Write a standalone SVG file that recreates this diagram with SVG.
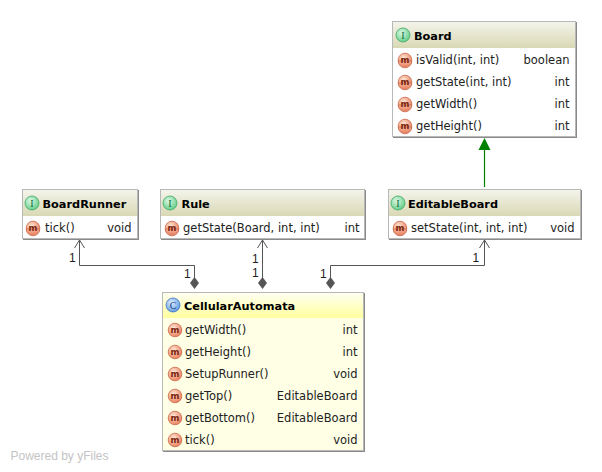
<svg xmlns="http://www.w3.org/2000/svg" width="602" height="472" viewBox="0 0 602 472">
<style>
text{font-family:"DejaVu Sans","Liberation Sans",sans-serif;font-size:11.5px;fill:#222}
.t{font-weight:bold;font-size:11.3px;fill:#000}
.r{text-anchor:end}
.box{stroke:#b8b8b8;stroke-width:1;fill:#fff}
.sh{fill:#8a8a8a}
.e{fill:none;stroke:#555;stroke-width:1}
.d{fill:#555;stroke:none}
.c{font-size:12px;font-family:"Liberation Sans",sans-serif;fill:#222}
.ic{font-size:8.500px;text-anchor:middle;fill:#7a1e0c;font-weight:bold}
.ii{font-size:10px;text-anchor:middle;fill:#0b6b3a;font-family:"Liberation Serif",serif}
.ico{fill:url(#gm);stroke:#c9684a;stroke-width:.8}
.ovl{fill:url(#go);stroke:#c9684a;stroke-width:.8}
</style>
<defs>
<linearGradient id="hi" x1="0" y1="0" x2="0" y2="1"><stop offset="0" stop-color="#f4f4ec"/><stop offset="1" stop-color="#d9d8b4"/></linearGradient>
<linearGradient id="hc" x1="0" y1="0" x2="0" y2="1"><stop offset="0" stop-color="#fffff2"/><stop offset="1" stop-color="#ffff9e"/></linearGradient>
<radialGradient id="gm" cx=".4" cy=".35" r=".7"><stop offset="0" stop-color="#fde8d8"/><stop offset="1" stop-color="#ea7a55"/></radialGradient>
<radialGradient id="gi" cx=".4" cy=".35" r=".7"><stop offset="0" stop-color="#dcf8e4"/><stop offset="1" stop-color="#5fcb84"/></radialGradient>
<radialGradient id="gc" cx=".4" cy=".35" r=".7"><stop offset="0" stop-color="#dfeeff"/><stop offset="1" stop-color="#5a95e0"/></radialGradient>
<linearGradient id="go" x1="0" y1="0" x2="0" y2="1"><stop offset="0" stop-color="#f6b9a0"/><stop offset="1" stop-color="#e87a58"/></linearGradient>
<g id="mi"><circle cx="0" cy="0" r="6.800" class="ico"/><text class="ic" x="0" y="2.800">m</text></g>
<g id="ma"><circle cx="0" cy="0" r="6.800" class="ico"/><path d="M-6.800 1H6.800A6.800 6.800 0 0 1-6.800 1Z" class="ovl" fill-opacity=".7"/><text class="ic" x="0" y="2.800">m</text></g>
<g id="ii"><circle cx="0" cy="0" r="7" fill="url(#gi)" stroke="#3fa866" stroke-width=".8"/><text class="ii" x="0" y="3.500">I</text></g>
</defs>
<g id="connectors">
<path class="e" d="M194.500 278V265.500H79.500V240"/>
<path class="e" d="M79.500 240l-5 8M79.500 240l5 8"/>
<path class="d" d="M194.500 277l4.500 6-4.500 6-4.500-6z"/>
<path class="e" d="M262.500 278V240"/>
<path class="e" d="M262.500 240l-5 8M262.500 240l5 8"/>
<path class="d" d="M262.500 277l4.500 6-4.500 6-4.500-6z"/>
<path class="e" d="M330.500 278V265.500H484.500V240"/>
<path class="e" d="M484.500 240l-5 8M484.500 240l5 8"/>
<path class="d" d="M330.500 277l4.500 6-4.500 6-4.500-6z"/>
<path d="M484.500 187V149" stroke="#008000" stroke-width="1.200" fill="none"/>
<path d="M484.500 138l6 12h-12z" fill="#008000"/>
<text class="c" x="69" y="262">1</text>
<text class="c" x="184" y="278">1</text>
<text class="c" x="252" y="263">1</text>
<text class="c" x="252" y="277">1</text>
<text class="c" x="320" y="278">1</text>
<text class="c" x="472.500" y="262">1</text>
</g>
<g id="board">
<rect class="sh" x="393" y="22" width="184" height="116"/>
<rect class="box" x="392.500" y="21.500" width="183" height="115"/>
<rect x="393" y="22" width="182" height="26" fill="url(#hi)"/>
<use href="#ii" x="403" y="35"/><text class="t" x="414" y="39.500">Board</text>
<use href="#ma" x="405" y="60"/><text x="416" y="64">isValid(int, int)</text><text class="r" x="569.500" y="64">boolean</text>
<use href="#ma" x="405" y="82"/><text x="416" y="86">getState(int, int)</text><text class="r" x="569.500" y="86">int</text>
<use href="#ma" x="405" y="104"/><text x="416" y="108">getWidth()</text><text class="r" x="569.500" y="108">int</text>
<use href="#ma" x="405" y="126"/><text x="416" y="130">getHeight()</text><text class="r" x="569.500" y="130">int</text>
</g>
<g id="boardrunner">
<rect class="sh" x="23" y="190" width="116" height="50"/>
<rect class="box" x="22.500" y="189.500" width="115" height="49"/>
<rect x="23" y="190" width="114" height="26" fill="url(#hi)"/>
<use href="#ii" x="32" y="203"/><text class="t" x="42.500" y="207.500">BoardRunner</text>
<use href="#ma" x="33" y="228"/><text x="45" y="232">tick()</text><text class="r" x="131.500" y="232">void</text>
</g>
<g id="rule">
<rect class="sh" x="161" y="190" width="205" height="50"/>
<rect class="box" x="160.500" y="189.500" width="204" height="49"/>
<rect x="161" y="190" width="203" height="26" fill="url(#hi)"/>
<use href="#ii" x="170" y="203"/><text class="t" x="181.500" y="207.500">Rule</text>
<use href="#ma" x="172" y="228"/><text x="183" y="232">getState(Board, int, int)</text><text class="r" x="359.500" y="232">int</text>
</g>
<g id="editableboard">
<rect class="sh" x="389" y="190" width="193" height="50"/>
<rect class="box" x="388.500" y="189.500" width="192" height="49"/>
<rect x="389" y="190" width="191" height="26" fill="url(#hi)"/>
<use href="#ii" x="398" y="203"/><text class="t" x="408" y="207.500">EditableBoard</text>
<use href="#ma" x="400" y="228"/><text x="411" y="232">setState(int, int, int)</text><text class="r" x="574.500" y="232">void</text>
</g>
<g id="cellularautomata">
<rect class="sh" x="163" y="293" width="202" height="159"/>
<rect class="box" x="162.500" y="292.500" width="201" height="158" style="fill:#ffffe6"/>
<rect x="163" y="293" width="200" height="25" fill="url(#hc)"/>
<circle cx="173" cy="305" r="7" fill="url(#gc)" stroke="#3f74c0" stroke-width=".8"/><text class="ii" x="173" y="308.500" style="fill:#153f80">C</text>
<text class="t" x="184" y="310">CellularAutomata</text>
<use href="#mi" x="175" y="330"/><text x="185" y="334">getWidth()</text><text class="r" x="357.500" y="334">int</text>
<use href="#mi" x="175" y="352"/><text x="185" y="356">getHeight()</text><text class="r" x="357.500" y="356">int</text>
<use href="#mi" x="175" y="374"/><text x="185" y="378">SetupRunner()</text><text class="r" x="357.500" y="378">void</text>
<use href="#mi" x="175" y="396"/><text x="185" y="400">getTop()</text><text class="r" x="357.500" y="400">EditableBoard</text>
<use href="#mi" x="175" y="418"/><text x="185" y="422">getBottom()</text><text class="r" x="357.500" y="422">EditableBoard</text>
<use href="#mi" x="175" y="440"/><text x="185" y="444">tick()</text><text class="r" x="357.500" y="444">void</text>
</g>
<text x="10.500" y="460" style="font-family:'Liberation Sans',sans-serif;font-size:12px;fill:#c4c4c4">Powered by yFiles</text>
</svg>
